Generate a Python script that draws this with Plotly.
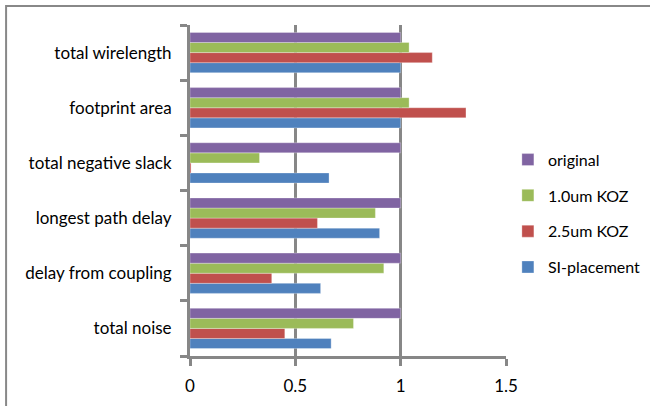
import plotly.graph_objects as go

# Metric names, listed bottom to top as they appear on the axis
metrics = ["total noise", "delay from coupling", "longest path delay",
           "total negative slack", "footprint area", "total wirelength"]

# Normalised results per flow (same order as metrics)
si_placement = [0.67, 0.62, 0.90, 0.66, 1.00, 1.00]
koz_2_5um = [0.45, 0.388, 0.605, 0.005, 1.31, 1.15]
koz_1_0um = [0.776, 0.92, 0.88, 0.33, 1.04, 1.04]
original = [1.00, 1.00, 1.00, 1.00, 1.00, 1.00]

x_ticks = [0, 0.5, 1, 1.5]
x_tick_text = ["0", "0.5", "1", "1.5"]

series = [
    ("SI-placement", si_placement, "#4F81BD"),
    ("2.5um KOZ", koz_2_5um, "#C0504D"),
    ("1.0um KOZ", koz_1_0um, "#9BBB59"),
    ("original", original, "#8064A2"),
]

FONT = "Lato, Open Sans, sans-serif"
GRID = "#878787"

fig = go.Figure()
for i, (name, vals, color) in enumerate(series):
    fig.add_trace(go.Bar(
        y=metrics, x=vals, name=name, orientation="h",
        marker=dict(color=color, line=dict(color="rgba(255,255,255,0.6)", width=0.5)),
        legendgroup=f"g{i}", legendrank=len(series) - i,
    ))

fig.update_layout(
    width=650, height=406,
    margin=dict(l=190, r=144, t=25, b=50, autoexpand=False),
    paper_bgcolor="white", plot_bgcolor="white",
    barmode="group", bargap=0.27, bargroupgap=0,
    font=dict(family=FONT, size=17, color="black"),
    legend=dict(
        traceorder="grouped", tracegroupgap=12,
        x=1.006, xanchor="left", y=0.43, yanchor="middle",
        font=dict(family=FONT, size=16, color="black"),
        itemwidth=30,
    ),
    showlegend=True,
)

fig.update_xaxes(
    range=[0, 1.5], tickvals=x_ticks, ticktext=x_tick_text,
    showgrid=True, gridcolor=GRID, gridwidth=3,
    showline=True, linecolor=GRID, linewidth=3,
    ticks="outside", ticklen=7, tickcolor=GRID, tickwidth=3,
    ticklabelstandoff=6, zeroline=False,
)
fig.update_yaxes(
    type="category", categoryorder="array", categoryarray=metrics,
    showgrid=False, showline=True, linecolor=GRID, linewidth=3,
    ticks="outside", tickson="boundaries", ticklen=7, tickcolor=GRID, tickwidth=3,
    ticklabelstandoff=12,
)

# Outer chart frame
fig.add_shape(type="rect", xref="paper", yref="paper",
              x0=-0.582, x1=1.49, y0=-0.3, y1=1.0574,
              line=dict(color="#888888", width=2), fillcolor="rgba(0,0,0,0)",
              layer="below")

fig.write_html("out.html")
